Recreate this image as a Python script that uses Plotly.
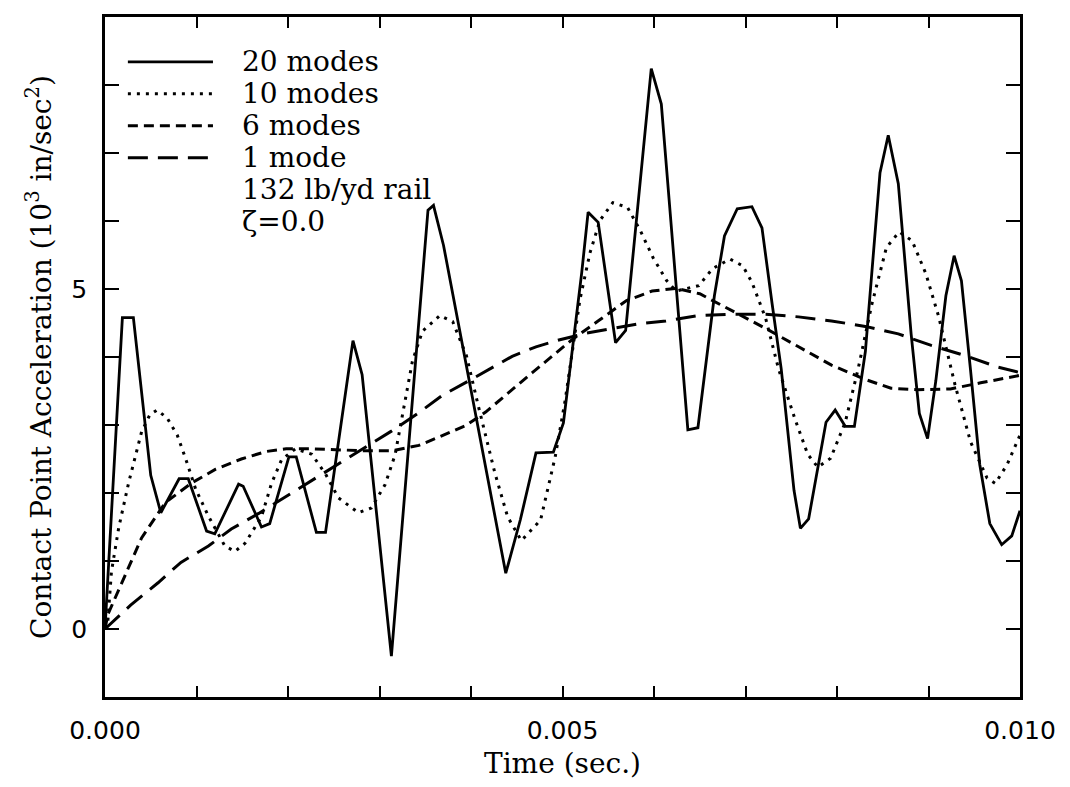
import plotly.graph_objects as go

# ---- data (time in ms, converted to s below; acceleration in 10^3 in/sec^2) ----
t_20 = [0.00, 0.19, 0.31, 0.50, 0.61, 0.81, 0.91, 1.11, 1.20, 1.46, 1.51, 1.71, 1.80,
        2.01, 2.09, 2.31, 2.41, 2.71, 2.81, 3.13, 3.53, 3.59, 3.70, 4.38, 4.54, 4.71,
        4.90, 5.01, 5.21, 5.28, 5.39, 5.58, 5.69, 5.97, 6.08, 6.37, 6.48, 6.66, 6.77,
        6.91, 7.07, 7.18, 7.29, 7.39, 7.53, 7.60, 7.69, 7.88, 7.98, 8.09, 8.19, 8.31,
        8.47, 8.56, 8.67, 8.81, 8.90, 8.99, 9.08, 9.19, 9.28, 9.36, 9.46, 9.56, 9.67,
        9.80, 9.91, 10.00]
a_20 = [0.00, 4.58, 4.58, 2.26, 1.71, 2.21, 2.21, 1.44, 1.40, 2.13, 2.10, 1.50, 1.55,
        2.53, 2.53, 1.42, 1.42, 4.24, 3.74, -0.40, 6.16, 6.23, 5.64, 0.82, 1.61, 2.59,
        2.60, 3.03, 5.24, 6.13, 5.98, 4.21, 4.39, 8.24, 7.72, 2.93, 2.96, 4.90, 5.78,
        6.18, 6.21, 5.90, 4.79, 3.83, 2.04, 1.48, 1.62, 3.04, 3.22, 2.98, 2.98, 4.08,
        6.71, 7.26, 6.55, 4.34, 3.17, 2.80, 3.65, 4.90, 5.49, 5.12, 3.80, 2.42, 1.55,
        1.24, 1.37, 1.74]

t_10 = [0.00, 0.03, 0.07, 0.15, 0.26, 0.40, 0.49, 0.57, 0.68, 0.79, 0.88, 0.99, 1.13,
        1.31, 1.42, 1.53, 1.71, 1.82, 1.93, 2.08, 2.26, 2.41, 2.55, 2.77, 2.91, 3.06,
        3.17, 3.36, 3.47, 3.66, 3.80, 3.95, 4.08, 4.26, 4.40, 4.55, 4.76, 4.92, 5.03,
        5.19, 5.30, 5.41, 5.55, 5.71, 5.85, 5.99, 6.14, 6.24, 6.49, 6.64, 6.83, 6.97,
        7.07, 7.22, 7.36, 7.54, 7.68, 7.79, 7.93, 8.09, 8.23, 8.38, 8.54, 8.68, 8.82,
        8.97, 9.11, 9.29, 9.46, 9.64, 9.73, 9.86, 10.00]
a_10 = [0.00, 0.10, 0.84, 1.49, 2.16, 2.90, 3.15, 3.22, 3.10, 2.85, 2.51, 2.06, 1.66,
        1.22, 1.14, 1.26, 1.65, 2.14, 2.49, 2.65, 2.57, 2.28, 1.93, 1.71, 1.78, 2.12,
        2.56, 3.94, 4.38, 4.61, 4.52, 4.02, 3.28, 2.30, 1.65, 1.30, 1.60, 2.53, 3.37,
        4.84, 5.53, 6.01, 6.27, 6.20, 5.86, 5.46, 5.12, 4.97, 5.05, 5.30, 5.44, 5.34,
        5.10, 4.57, 3.83, 3.09, 2.57, 2.38, 2.51, 3.04, 3.82, 4.77, 5.61, 5.84, 5.71,
        5.23, 4.60, 3.59, 2.75, 2.22, 2.14, 2.42, 2.85]

t_6 = [0.00, 0.03, 0.22, 0.40, 0.66, 0.95, 1.21, 1.49, 1.76, 1.98, 2.26, 2.55, 2.85,
       3.13, 3.43, 3.68, 3.94, 4.16, 4.41, 4.67, 4.93, 5.10, 5.40, 5.70, 5.98, 6.24,
       6.50, 6.85, 7.22, 7.58, 7.94, 8.31, 8.59, 8.88, 9.24, 9.57, 10.00]
a_6 = [0.00, 0.21, 0.79, 1.34, 1.86, 2.15, 2.35, 2.50, 2.61, 2.65, 2.65, 2.63, 2.62,
       2.62, 2.70, 2.84, 2.99, 3.19, 3.48, 3.77, 4.06, 4.25, 4.54, 4.83, 4.97, 5.01,
       4.93, 4.68, 4.42, 4.15, 3.88, 3.67, 3.54, 3.52, 3.53, 3.62, 3.73]

t_1 = [0.00, 0.28, 0.58, 0.83, 1.13, 1.38, 1.68, 1.97, 2.26, 2.55, 2.85, 3.13, 3.43,
       3.68, 3.95, 4.20, 4.45, 4.71, 4.96, 5.26, 5.54, 5.84, 6.13, 6.49, 6.85, 7.22,
       7.58, 7.94, 8.31, 8.67, 9.03, 9.40, 9.76, 10.00]
a_1 = [0.00, 0.35, 0.68, 0.98, 1.22, 1.47, 1.70, 1.94, 2.19, 2.42, 2.67, 2.91, 3.18,
       3.43, 3.63, 3.82, 4.01, 4.15, 4.25, 4.35, 4.42, 4.49, 4.53, 4.61, 4.63, 4.63,
       4.59, 4.53, 4.45, 4.34, 4.17, 4.02, 3.85, 3.77]

series_names = ["20 modes", "10 modes", "6 modes", "1 mode"]
note_lines = ["132 lb/yd rail", "\u03b6=0.0"]

x_tickvals = [0.000, 0.005, 0.010]
x_ticktext = ["0.000", "0.005", "0.010"]
x_minor_step = 0.001
y_tickvals = [0, 5]
y_ticktext = ["0", "5"]
y_minor_step = 1

# ---- styles ----
dashes = ["solid", "3px,6px", "10px,6px", "20px,10px"]
widths = [2.8, 3.0, 3.0, 3.0]
serif = "DejaVu Serif"
sans = "DejaVu Sans"

xs = [t_20, t_10, t_6, t_1]
ys = [a_20, a_10, a_6, a_1]

fig = go.Figure()
for name, t, a, d, w in zip(series_names, xs, ys, dashes, widths):
    fig.add_trace(go.Scatter(
        x=[v * 1e-3 for v in t], y=a, mode="lines", name=name,
        line=dict(color="black", width=w, dash=d), showlegend=False,
    ))

# manual legend (long line samples like the original)
row_y = [0.934, 0.887, 0.840, 0.793, 0.746, 0.699]
for i, (name, d, w) in enumerate(zip(series_names, dashes, widths)):
    fig.add_shape(type="line", xref="paper", yref="paper",
                  x0=0.025, x1=0.118, y0=row_y[i], y1=row_y[i],
                  line=dict(color="black", width=w, dash=d))
    fig.add_annotation(xref="paper", yref="paper", x=0.147, y=row_y[i],
                       text=name, showarrow=False, xanchor="left", yanchor="middle",
                       font=dict(family=serif, size=28, color="black"))
for j, txt in enumerate(note_lines):
    fig.add_annotation(xref="paper", yref="paper", x=0.147, y=row_y[4 + j],
                       text=txt, showarrow=False, xanchor="left", yanchor="middle",
                       font=dict(family=serif, size=28, color="black"))

axis_common = dict(showline=True, linecolor="black", linewidth=2.5, mirror="ticks",
                   ticks="inside", tickcolor="black", tickwidth=2,
                   showgrid=False, zeroline=False,
                   tickfont=dict(family=sans, size=25, color="black"))

fig.update_xaxes(range=[0, 0.010], tickmode="array", tickvals=x_tickvals,
                 ticktext=x_ticktext, ticklen=11, ticklabelstandoff=9,
                 minor=dict(tickmode="linear", tick0=0, dtick=x_minor_step,
                            ticks="inside", ticklen=11, tickwidth=2,
                            tickcolor="black", showgrid=False),
                 title=dict(text="Time (sec.)", standoff=10,
                            font=dict(family=serif, size=28, color="black")),
                 **axis_common)
fig.update_yaxes(range=[-1, 9], tickmode="array", tickvals=y_tickvals,
                 ticktext=y_ticktext, ticklen=14, ticklabelstandoff=10,
                 minor=dict(tickmode="linear", tick0=0, dtick=y_minor_step,
                            ticks="inside", ticklen=14, tickwidth=2,
                            tickcolor="black", showgrid=False),
                 title=dict(text="Contact Point Acceleration (10<sup>3</sup> in/sec<sup>2</sup>)",
                            standoff=12, font=dict(family=serif, size=28, color="black")),
                 **axis_common)

fig.update_layout(width=1070, height=787, autosize=False,
                  margin=dict(l=105, r=50, t=17, b=90, autoexpand=False),
                  paper_bgcolor="white", plot_bgcolor="white")

fig.write_html("out.html")
